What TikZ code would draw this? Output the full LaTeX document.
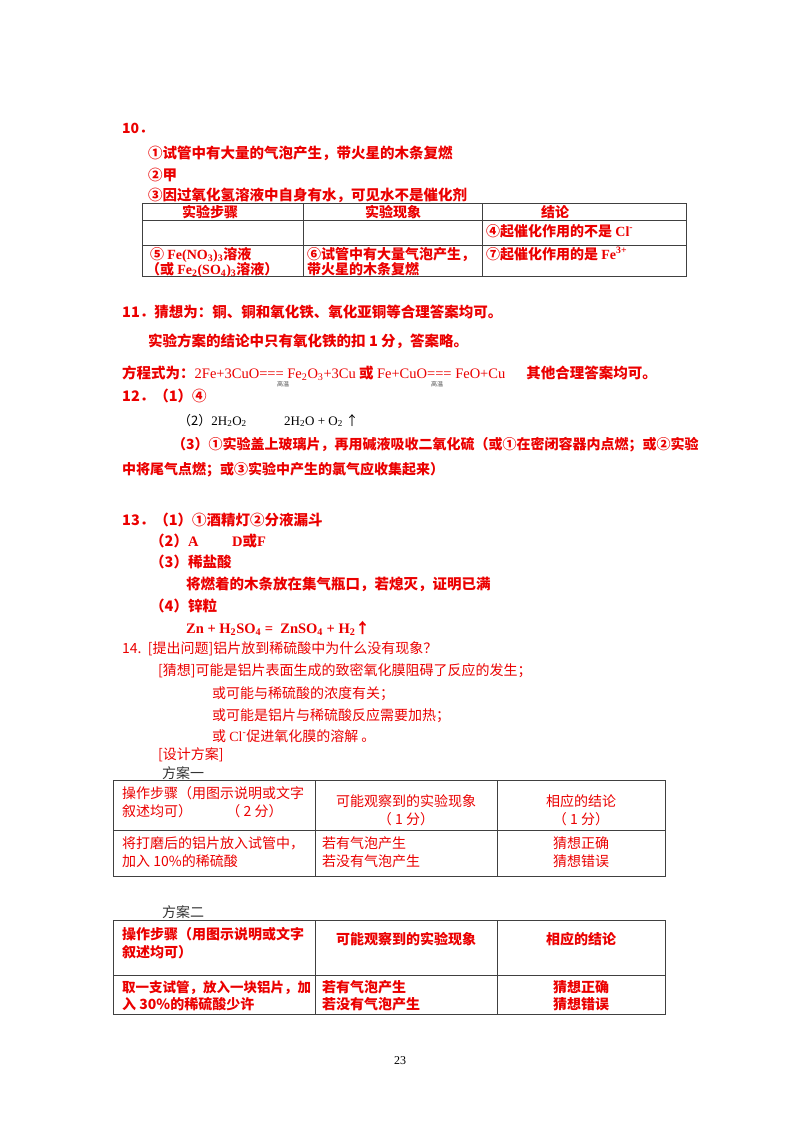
\documentclass[tikz,border=0pt]{standalone}
\usepackage{fontspec}
\setmainfont{Noto Sans CJK SC}
\newfontfamily\ser{Liberation Serif}
\definecolor{rd}{RGB}{235,0,0}
\begin{document}
\begin{tikzpicture}[x=1pt,y=-1pt,
 t/.style={anchor=base west,inner sep=0pt,font=\fontsize{14}{17}\selectfont\bfseries,text=rd},
 tl/.style={t,font=\fontsize{14.5}{17}\selectfont\bfseries},
 tb/.style={t,text=black},
 tc/.style={t,anchor=base},
 tn/.style={t,font=\fontsize{14}{17}\selectfont},
 tnc/.style={tn,anchor=base},
 grid/.style={line width=0.9pt,draw=black!75}]
\useasboundingbox (0,0) rectangle (800,1132);
\fill[white] (0,0) rectangle (800,1132);
% 10
\node[t] (n10) at (122,133) {10．};
\node[tl] (a1) at (148,158) {①试管中有大量的气泡产生，带火星的木条复燃};
\node[tl] (a2) at (148,180) {②甲};
\node[tl] (a3) at (148,200) {③因过氧化氢溶液中自身有水，可见水不是催化剂};
\draw[grid] (142,203) rectangle (686,276) (142,220)--(686,220) (142,245)--(686,245) (303,203)--(303,276) (482,203)--(482,276);
\node[tc] (h1) at (210,217) {实验步骤};
\node[tc] (h2) at (393,217) {实验现象};
\node[tc] (h3) at (555,217) {结论};
\node[t] (c4) at (486,236) {④起催化作用的不是 {\ser Cl\textsuperscript{-}}};
\node[t] (c5) at (150,259) {⑤ {\ser Fe(NO\textsubscript{3})\textsubscript{3}}溶液};
\node[t] (c5b) at (146,274) {（或 {\ser Fe\textsubscript{2}(SO\textsubscript{4})\textsubscript{3}}溶液）};
\node[t] (c6) at (307,259) {⑥试管中有大量气泡产生，};
\node[t] (c6b) at (307,274) {带火星的木条复燃};
\node[t] (c7) at (486,259) {⑦起催化作用的是 {\ser Fe\textsuperscript{3+}}};
% 11
\node[tl] (n11) at (122,317) {11．猜想为：铜、铜和氧化铁、氧化亚铜等合理答案均可。};
\node[tl] (b1) at (148,346) {实验方案的结论中只有氧化铁的扣 1 分，答案略。};
\node[tl] (b2) at (122,378) {方程式为：{\ser\mdseries 2Fe+3CuO=== Fe\textsubscript{2}O\textsubscript{3}+3Cu} 或 {\ser\mdseries Fe+CuO=== FeO+Cu}\quad\ \ 其他合理答案均可。};
\node[anchor=base,inner sep=0pt,font=\fontsize{6}{7}\selectfont,text=black!70] (g1) at (283,386) {高温};
\node[anchor=base,inner sep=0pt,font=\fontsize{6}{7}\selectfont,text=black!70] (g2) at (437,386) {高温};
% 12
\node[tl] (n12) at (122,401) {12．（1）④};
\node[tb,font=\fontsize{13}{16}\selectfont] (e1) at (178,425) {（2）{\ser 2H\textsubscript{2}O\textsubscript{2}}};
\node[tb,font=\fontsize{13}{16}\selectfont] (e2) at (284,425) {{\ser 2H\textsubscript{2}O + O\textsubscript{2}} ↑};
\node[t] (d1) at (172,449) {（3）①实验盖上玻璃片，再用碱液吸收二氧化硫（或①在密闭容器内点燃；或②实验};
\node[t] (d2) at (122,474) {中将尾气点燃；或③实验中产生的氯气应收集起来）};
% 13
\node[tl] (n13) at (122,525) {13．（1）①酒精灯②分液漏斗};
\node[tl] (f1) at (150,546) {（2）{\ser A}};
\node[tl] (f2) at (232,546) {{\ser D}或{\ser F}};
\node[tl] (f3) at (150,567) {（3）稀盐酸};
\node[tl] (f4) at (186,589) {将燃着的木条放在集气瓶口，若熄灭，证明已满};
\node[tl] (f5) at (150,611) {（4）锌粒};
\node[tl] (f6) at (186,633) {{\ser Zn + H\textsubscript{2}SO\textsubscript{4} = \ ZnSO\textsubscript{4} + H\textsubscript{2}}↑};
% 14
\node[tn] (n14) at (122,653) {14.\ \ [提出问题]铝片放到稀硫酸中为什么没有现象？};
\node[tn] (k1) at (158,675) {[猜想]可能是铝片表面生成的致密氧化膜阻碍了反应的发生；};
\node[tn] (k2) at (212,698) {或可能与稀硫酸的浓度有关；};
\node[tn] (k3) at (212,720) {或可能是铝片与稀硫酸反应需要加热；};
\node[tn] (k4) at (212,741) {或 {\ser Cl\textsuperscript{-}}促进氧化膜的溶解\ 。};
\node[tn] (k5) at (158,759) {[设计方案]};
\node[tn,text=black!80] (p1) at (162,778) {方案一};
\draw[grid] (113,780) rectangle (665,876) (113,830)--(665,830) (315,780)--(315,876) (497,780)--(497,876);
\node[tn] (q1) at (122,798) {操作步骤（用图示说明或文字};
\node[tn] (q2) at (122,816) {叙述均可）\qquad\ \ （ 2 分）};
\node[tnc] (q3) at (406,806) {可能观察到的实验现象};
\node[tnc] (q4) at (406,824) {（ 1 分）};
\node[tnc] (q5) at (581,806) {相应的结论};
\node[tnc] (q6) at (581,824) {（ 1 分）};
\node[tn] (r1) at (122,848) {将打磨后的铝片放入试管中，};
\node[tn] (r2) at (122,866) {加入 10\%的稀硫酸};
\node[tn] (r3) at (322,848) {若有气泡产生};
\node[tn] (r4) at (322,866) {若没有气泡产生};
\node[tnc] (r5) at (581,848) {猜想正确};
\node[tnc] (r6) at (581,866) {猜想错误};
\node[tn,text=black!80] (p2) at (162,917) {方案二};
\draw[grid] (113,920) rectangle (665,1014) (113,975)--(665,975) (315,920)--(315,1014) (497,920)--(497,1014);
\node[t] (s1) at (122,939) {操作步骤（用图示说明或文字};
\node[t] (s2) at (122,957) {叙述均可）};
\node[tc] (s3) at (406,944) {可能观察到的实验现象};
\node[tc] (s4) at (581,944) {相应的结论};
\node[t,font=\fontsize{13.5}{16}\selectfont\bfseries] (u1) at (122,992) {取一支试管，放入一块铝片，加};
\node[t] (u2) at (122,1009) {入 30\%的稀硫酸少许};
\node[t] (u3) at (322,992) {若有气泡产生};
\node[t] (u4) at (322,1009) {若没有气泡产生};
\node[tc] (u5) at (581,992) {猜想正确};
\node[tc] (u6) at (581,1009) {猜想错误};
\node[anchor=base,inner sep=0pt,font=\ser\fontsize{12}{14}\selectfont] (pg) at (400,1064) {23};
\end{tikzpicture}
\end{document}
